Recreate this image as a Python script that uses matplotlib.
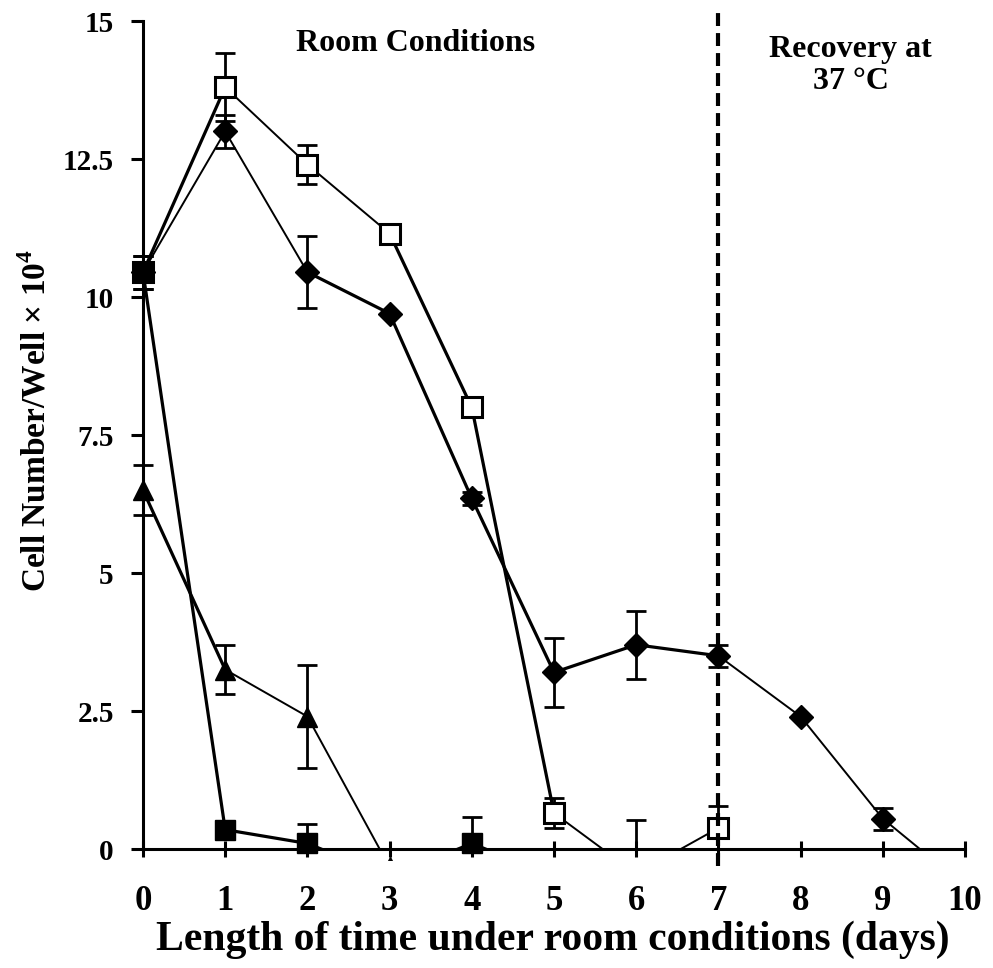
import matplotlib
matplotlib.use("Agg")
import matplotlib.pyplot as plt
from matplotlib.patches import Rectangle
import numpy as np

plt.rcParams['font.family'] = ['Liberation Serif', 'DejaVu Serif']
plt.rcParams['font.weight'] = 'bold'
plt.rcParams['mathtext.fontset'] = 'custom'
plt.rcParams['mathtext.rm'] = 'Liberation Serif:bold'
plt.rcParams['mathtext.bf'] = 'Liberation Serif:bold'

# ---- data ----
diamond_x = [0, 1, 2, 3, 4, 5, 6, 7, 8, 9, 10]
diamond_y = [10.45, 13.0, 10.45, 9.7, 6.35, 3.2, 3.7, 3.5, 2.4, 0.55, -0.67]
diamond_err = [0.3, 0.3, 0.65, 0.0, 0.12, 0.62, 0.62, 0.2, 0.0, 0.2, 0.0]

opensq_x = [0, 1, 2, 3, 4, 5, 6, 7]
opensq_y = [10.45, 13.8, 12.4, 11.15, 8.0, 0.65, -0.45, 0.38]
opensq_err = [0.3, 0.62, 0.35, 0.1, 0.06, 0.27, 0.97, 0.4]

filledsq_x = [0, 1, 2, 3, 4, 5]
filledsq_y = [10.45, 0.35, 0.1, -0.5, 0.1, -0.5]
filledsq_err = [0.3, 0.0, 0.35, 0.0, 0.48, 0.0]

tri_x = [0, 1, 2, 3]
tri_y = [6.5, 3.25, 2.4, -0.33]
tri_err = [0.45, 0.45, 0.93, 0.0]

xticks = [0, 1, 2, 3, 4, 5, 6, 7, 8, 9, 10]
yticks = [0, 2.5, 5, 7.5, 10, 12.5, 15]
ytick_labels = ['0', '2.5', '5', '7.5', '10', '12.5', '15']

# ---- figure ----
W, H = 993, 968
fig = plt.figure(figsize=(W / 100, H / 100), dpi=100)
ax = fig.add_axes([143 / W, (H - 849) / H, 822 / W, 828 / H])
ax.set_xlim(0, 10)
ax.set_ylim(0, 15)

for s in ['top', 'right']:
    ax.spines[s].set_visible(False)
for s in ['left', 'bottom']:
    ax.spines[s].set_linewidth(2.2)

thick, thin = 2.3, 1.4
series = [
    (diamond_x, diamond_y, diamond_err, 'D', 'black', 12,
     [thin, thin, thick, thick, thick, thick, thick, thin, thin, thin]),
    (opensq_x, opensq_y, opensq_err, 's', 'white', 14,
     [thick, thin, thin, thick, thick, thin, thin]),
    (filledsq_x, filledsq_y, filledsq_err, 's', 'black', 15,
     [thick, thick, thick, thick, thick]),
    (tri_x, tri_y, tri_err, '^', 'black', 15,
     [thick, thin, thin]),
]

line_clip = Rectangle((-1, 0), 12, 20, transform=ax.transData, visible=False)
mark_clip = Rectangle((-1, -0.2), 12, 20, transform=ax.transData, visible=False)
ax.add_patch(line_clip)
ax.add_patch(mark_clip)


def clip_to(art, patch):
    art.set_clip_on(True)
    art.set_clip_box(None)
    art.set_clip_path(patch)


for xs, ys, es, m, fc, ms, lws in series:
    xs = np.array(xs, float)
    ys = np.array(ys, float)
    es = np.array(es, float)
    for i in range(len(xs) - 1):
        ln, = ax.plot(xs[i:i + 2], ys[i:i + 2], color='black', lw=lws[i],
                      solid_capstyle='butt', zorder=3)
        clip_to(ln, line_clip)
    sel = es > 0
    eb = ax.errorbar(xs[sel], ys[sel], yerr=es[sel], fmt='none', ecolor='black',
                     elinewidth=2.0, capsize=7, capthick=2.0, zorder=4)
    for art in list(eb.lines[1]) + list(eb.lines[2]):
        clip_to(art, line_clip)
    mk, = ax.plot(xs, ys, linestyle='none', marker=m, markersize=ms,
                  markerfacecolor=fc, markeredgecolor='black',
                  markeredgewidth=2.2 if fc == 'white' else 1.0, zorder=5)
    clip_to(mk, mark_clip)

# dashed separator at day 7
ax.plot([7, 7], [-0.3, 15.15], color='black', lw=3.0, linestyle=(0, (3.1, 1.7)),
        clip_on=False, zorder=6)

ax.set_xticks(xticks)
ax.set_xticklabels([str(v) for v in xticks])
ax.set_yticks(yticks)
ax.set_yticklabels(ytick_labels)
ax.tick_params(axis='x', direction='inout', length=12, width=2.2, pad=20,
               labelsize=25)
ax.tick_params(axis='y', direction='out', length=9, width=2.2, pad=12,
               labelsize=21)

ax.text(3.32, 14.6, 'Room Conditions', ha='center', va='center', fontsize=23,
        fontweight='bold')
ax.text(8.61, 14.2, 'Recovery at\n37 °C', ha='center', va='center', fontsize=23,
        fontweight='bold', linespacing=1.15)

fig.text(553 / W, 1 - 940 / H, 'Length of time under room conditions (days)',
         ha='center', va='center', fontsize=30, fontweight='bold')
fig.text(36 / W, 1 - 420 / H, r'Cell Number/Well × 10$^{\mathbf{4}}$',
         ha='center', va='center', rotation=90, fontsize=24, fontweight='bold')

fig.savefig('out.png', dpi=100)
